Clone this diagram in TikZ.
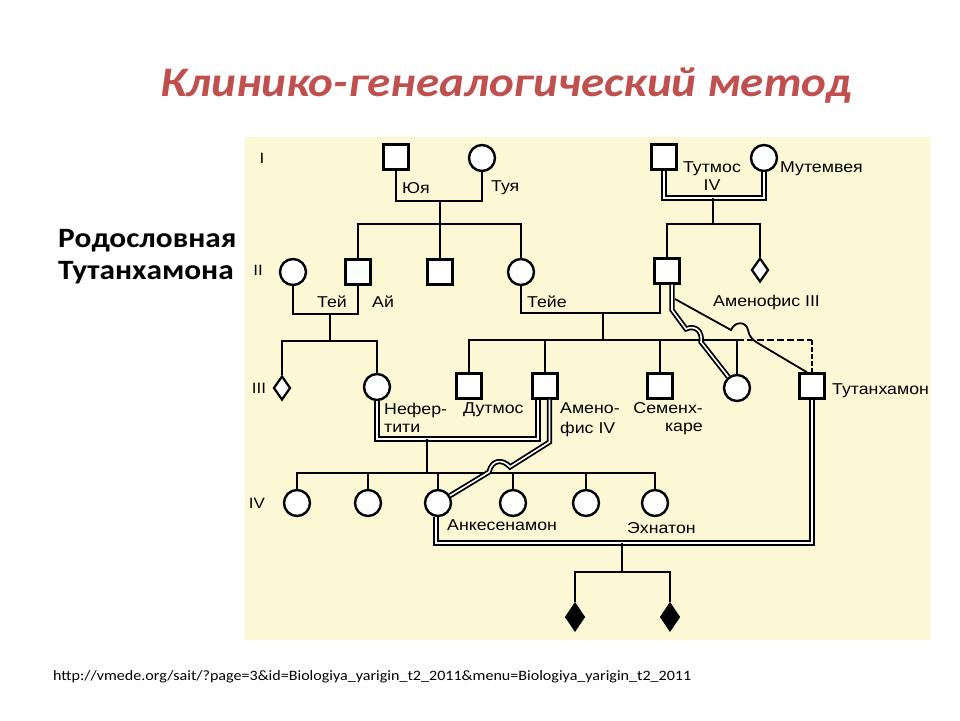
\documentclass[tikz,border=0pt]{standalone}
\usepackage{fontspec}
\setmainfont{Liberation Sans}
\newfontfamily\calib[FakeStretch=1.12]{Carlito}
\newfontfamily\lab[FakeStretch=1.13]{Liberation Sans}
\usetikzlibrary{shapes.geometric}
\definecolor{panel}{RGB}{252,248,214}
\definecolor{titlered}{RGB}{192,80,77}
\begin{document}
\begin{tikzpicture}[x=1pt,y=-1pt,
  male/.style={draw,line width=2.4pt,fill=white,rectangle,minimum size=25pt,inner sep=0pt},
  female/.style={draw,line width=2.4pt,fill=white,circle,minimum size=26pt,inner sep=0pt},
  unk/.style={draw,line width=2.2pt,fill=white,diamond,minimum width=17pt,minimum height=24pt,inner sep=0pt},
  dead/.style={draw,line width=1.5pt,fill=black,diamond,minimum width=19pt,minimum height=28pt,inner sep=0pt},
  lnk/.style={line width=2.3pt},
  dbl/.style={double=white,line width=1.8pt,double distance=1.6pt},
  lbl/.style={font=\lab\fontsize{15.7}{16}\selectfont,inner sep=0pt},
  genl/.style={font=\lab\fontsize{15}{16}\selectfont,inner sep=0pt}]
\useasboundingbox (0,0) rectangle (960,720);
\fill[white] (0,0) rectangle (960,720);
\fill[panel] (245,137) rectangle (930,640);

% title and side texts
\node[font=\calib\bfseries\itshape\fontsize{42}{48}\selectfont,text=titlered,inner sep=0pt] (title) at (506,86) {Клинико-генеалогический метод};
\node[font=\calib\bfseries\fontsize{28}{32}\selectfont,align=left,anchor=west,inner sep=0pt] (side) at (58,257) {Родословная\\Тутанхамона};
\node[font=\calib\fontsize{14.35}{16}\selectfont,anchor=west,inner sep=0pt] (url) at (53,677) {http://vmede.org/sait/?page=3\&id=Biologiya\_yarigin\_t2\_2011\&menu=Biologiya\_yarigin\_t2\_2011};

% generation labels
\node[genl] (gI) at (262,158) {I};
\node[genl] (gII) at (258,270) {II};
\node[genl] (gIII) at (259,388) {III};
\node[genl] (gIV) at (257,503) {IV};

% generation I
\node[male] (yuya) at (396,157) {};
\node[female] (tuya) at (482,158) {};
\node[male] (tut4) at (664,157) {};
\node[female] (mut) at (764,158) {};

% generation II
\node[female] (w1) at (293,272) {};
\node[male] (ai) at (358,272) {};
\node[male] (sq2) at (440,272) {};
\node[female] (teye) at (521,272) {};
\node[male] (a3) at (667,271) {};
\node[unk] (dia2) at (760,270) {};

% generation III
\node[unk] (dia1) at (282,388) {};
\node[female] (nef) at (377,387) {};
\node[male] (dut) at (469,386) {};
\node[male] (amen4) at (545,386) {};
\node[male] (semen) at (660,386) {};
\node[female] (sis) at (737,388) {};
\node[male] (tut) at (812,386) {};

% generation IV
\node[female] (d1) at (297,503) {};
\node[female] (d2) at (368,503) {};
\node[female] (d3) at (438,503) {};
\node[female] (d4) at (513,503) {};
\node[female] (d5) at (586,503) {};
\node[female] (d6) at (655,503) {};

% generation V
\node[dead] (sb1) at (575,617) {};
\node[dead] (sb2) at (670,617) {};

% junction coordinates
\coordinate (m1) at (440,201);
\coordinate (c1) at (440,224);
\coordinate (m2) at (330,314);
\coordinate (c2) at (330,341);
\coordinate (m3) at (713,198);
\coordinate (c3) at (713,224);
\coordinate (m4) at (603,313);
\coordinate (c4) at (603,340);
\coordinate (m5) at (427,439);
\coordinate (c5) at (427,473);
\coordinate (m6) at (622,543);
\coordinate (c6) at (622,572);
\coordinate (br) at (675,299);

% family Yuya/Tuya
\draw[lnk] (yuya) |- (m1) -| (tuya);
\draw[lnk] (m1) -- (c1);
\draw[lnk] (ai) |- (c1) -| (teye);
\draw[lnk] (c1) -- (sq2);

% family of Tey/Ay
\draw[lnk] (w1) |- (m2) -| (ai);
\draw[lnk] (m2) -- (c2);
\draw[lnk] (dia1) |- (c2) -| (nef);

% family Thutmose IV / Mutemwiya
\draw[dbl] (tut4) |- (m3) -| (mut);
\draw[lnk] (m3) -- (c3);
\draw[lnk] (a3) |- (c3) -| (dia2);

% Teye / Amenhotep III
\draw[lnk] (teye) |- (m4) -| ([xshift=-7pt]a3.south);
\draw[lnk] (m4) -- (c4);
\draw[lnk] (dut) |- (c4) -| (sis);
\draw[lnk] (amen4) -- (amen4 |- c4);
\draw[lnk] (semen) -- (semen |- c4);
\draw[lnk,dash pattern=on 7pt off 3pt] (sis |- c4) -- (tut |- c4);
\draw[line width=1.4pt,dash pattern=on 5pt off 2pt] (tut |- c4) -- (tut);

% Amenhotep III with his daughter
\draw[dbl] ([xshift=5pt]a3.south) -- (672,310) -- (686,329) .. controls (694,325) and (703,330) .. (701,342) -- (sis);
% Amenhotep III to Tutankhamun
\draw[lnk,line width=1.8pt] (br) -- (731,330) .. controls (735,321) and (746,321) .. (748,330) .. controls (749,336) and (752,339) .. (756,342) -- ([xshift=-5pt]tut.north);

% Nefertiti / Amenhotep IV
\draw[dbl] (nef) |- (m5) -| ([xshift=-7pt]amen4.south);
\draw[lnk] (m5) -- (c5);
\draw[lnk] (d1) |- (c5) -| (d6);
\draw[lnk] (d2) -- (d2 |- c5);
\draw[lnk] (d3) -- (d3 |- c5);
\draw[lnk] (d4) -- (d4 |- c5);
\draw[lnk] (d5) -- (d5 |- c5);

% Amenhotep IV with daughter Ankhesenamun
\draw[dbl] ([xshift=4.5pt]amen4.south) -- (549.5,442) -- (510,467) .. controls (503,459) and (492,459) .. (489,472) -- (d3);

% Ankhesenamun / Tutankhamun
\draw[dbl] ([xshift=-2pt]d3.south) |- (m6) -| (tut);
\draw[lnk] (m6) -- (c6);
\draw[lnk] (sb1) |- (c6) -| (sb2);

% names
\node[lbl,anchor=west] (lyuya) at (402,188) {Юя};
\node[lbl,anchor=west] (ltuya) at (491,188) {Туя};
\node[lbl,anchor=west] (ltey) at (317,302) {Тей};
\node[lbl,anchor=west] (lai) at (372,302) {Ай};
\node[lbl,anchor=west] (lteye) at (527,302) {Тейе};
\node[lbl] (ltut4a) at (712,169) {Тутмос};
\node[lbl] (ltut4b) at (712,185) {IV};
\node[lbl,anchor=west] (lmut) at (780,169) {Мутемвея};
\node[lbl,anchor=west] (la3) at (713,302) {Аменофис III};
\node[lbl,anchor=west] (lnef1) at (384,410) {Нефер-};
\node[lbl,anchor=west] (lnef2) at (384,428) {тити};
\node[lbl,anchor=west] (ldut) at (463,410) {Дутмос};
\node[lbl,anchor=west] (lam4a) at (560,408) {Амено-};
\node[lbl,anchor=west] (lam4b) at (560,429) {фис IV};
\node[lbl,anchor=east] (lsem1) at (703,408) {Семенх-};
\node[lbl,anchor=east] (lsem2) at (703,429) {каре};
\node[lbl,anchor=west] (ltut) at (832,391) {Тутанхамон};
\node[lbl,anchor=west] (lank) at (447,525) {Анкесенамон};
\node[lbl,anchor=west] (lekh) at (627,528) {Эхнатон};
\end{tikzpicture}
\end{document}
